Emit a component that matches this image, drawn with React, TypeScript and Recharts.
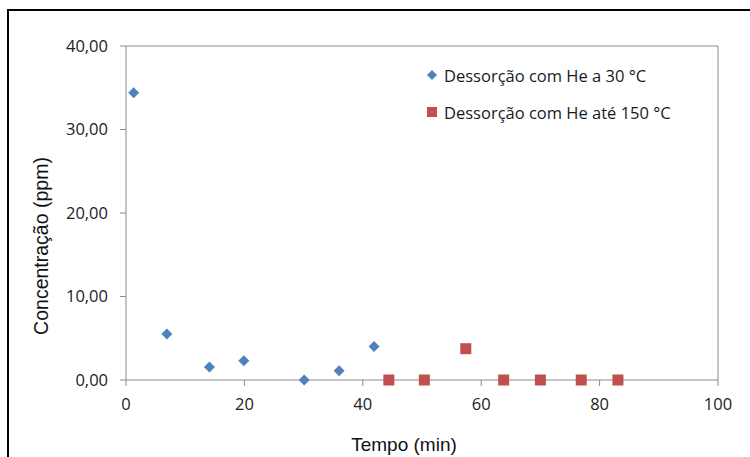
import React from 'react';
import {
  ScatterChart,
  Scatter,
  XAxis,
  YAxis,
  ReferenceLine,
  Legend,
} from 'recharts';

// Desorption at 30 °C (blue diamonds)
const tempo30: number[] = [1.3, 6.9, 14.1, 19.9, 30.1, 36.0, 41.9];
const conc30: number[] = [34.4, 5.5, 1.55, 2.3, 0.0, 1.1, 4.0];

// Desorption up to 150 °C (red squares)
const tempo150: number[] = [44.4, 50.4, 57.4, 63.8, 70.0, 76.9, 83.1];
const conc150: number[] = [0.0, 0.0, 3.75, 0.0, 0.0, 0.0, 0.0];

const xTicks: number[] = [0, 20, 40, 60, 80, 100];
const yTicks: number[] = [0, 10, 20, 30, 40];

const seriesNames: string[] = ['Dessorção com He a 30 °C', 'Dessorção com He até 150 °C'];

const BLUE = '#4F81BD';
const RED = '#C0504D';
const AXIS = '#8c8c8c';
const FONT = '"Open Sans", "Noto Sans", sans-serif';
const TITLE_FONT = '"Liberation Sans", Arial, sans-serif';

const data30 = tempo30.map((t, i) => ({ t, c: conc30[i] }));
const data150 = tempo150.map((t, i) => ({ t, c: conc150[i] }));

const Diamond = (props: any) => {
  const { cx, cy } = props;
  const r = 5.5;
  return (
    <polygon
      points={`${cx},${cy - r} ${cx + r},${cy} ${cx},${cy + r} ${cx - r},${cy}`}
      fill={BLUE}
    />
  );
};

const Square = (props: any) => {
  const { cx, cy } = props;
  const s = 11;
  return <rect x={cx - s / 2} y={cy - s / 2} width={s} height={s} fill={RED} />;
};

// Legend drawn like the Excel one: marker + label, stacked
const LegendContent = () => (
  <div style={{ fontFamily: FONT, fontSize: 16.5, color: '#1a1a1a' }}>
    <div style={{ display: 'flex', alignItems: 'center', height: 26 }}>
      <svg width={14} height={14} style={{ marginRight: 5 }}>
        <polygon points="7,2 12,7 7,12 2,7" fill={BLUE} />
      </svg>
      {seriesNames[0]}
    </div>
    <div style={{ display: 'flex', alignItems: 'center', height: 26, marginTop: 11 }}>
      <svg width={14} height={14} style={{ marginRight: 5 }}>
        <rect x={2} y={2} width={10} height={10} fill={RED} />
      </svg>
      {seriesNames[1]}
    </div>
  </div>
);

const App: React.FC = () => {
  return (
    <div
      style={{
        position: 'absolute',
        left: 0,
        top: 0,
        width: 750,
        height: 457,
        overflow: 'hidden',
        background: '#fff',
      }}
    >
      {/* outer frame (left + top edges visible) */}
      <div
        style={{
          position: 'absolute',
          left: 7,
          top: 9,
          width: 800,
          height: 500,
          borderLeft: '2px solid #000',
          borderTop: '2px solid #000',
        }}
      />
      <div style={{ position: 'absolute', left: 0, top: 0 }}>
        <ScatterChart
          width={750}
          height={457}
          margin={{ top: 46, right: 32, bottom: 17, left: 66 }}
        >
          <XAxis
            type="number"
            dataKey="t"
            domain={[0, 100]}
            ticks={xTicks}
            height={60}
            stroke={AXIS}
            tickSize={6}
            tickMargin={12}
            tick={{ fill: '#222', fontSize: 16.5, fontFamily: FONT }}
            label={() => (
              <text
                x={404}
                y={451}
                textAnchor="middle"
                fill="#111"
                fontSize={19}
                fontFamily={TITLE_FONT}
              >
                Tempo (min)
              </text>
            )}
          />
          <YAxis
            type="number"
            dataKey="c"
            domain={[0, 40]}
            ticks={yTicks}
            width={60}
            stroke={AXIS}
            tickSize={6}
            tickMargin={12}
            tickFormatter={(v: number) => v.toFixed(2).replace('.', ',')}
            tick={{ fill: '#222', fontSize: 16.5, fontFamily: FONT }}
            label={() => (
              <text
                x={48}
                y={246}
                transform="rotate(-90 48 246)"
                textAnchor="middle"
                fill="#111"
                fontSize={19.5}
                fontFamily={TITLE_FONT}
              >
                Concentração (ppm)
              </text>
            )}
          />
          {/* plot area frame: top and right edges */}
          <ReferenceLine y={40} stroke={AXIS} strokeWidth={1} />
          <ReferenceLine x={100} stroke={AXIS} strokeWidth={1} />
          <Legend
            content={<LegendContent />}
            layout="vertical"
            verticalAlign="middle"
            align="center"
            wrapperStyle={{ left: 425, top: 62, width: 320 }}
          />
          <Scatter
            name={seriesNames[0]}
            data={data30}
            fill={BLUE}
            shape={<Diamond />}
            isAnimationActive={false}
          />
          <Scatter
            name={seriesNames[1]}
            data={data150}
            fill={RED}
            shape={<Square />}
            isAnimationActive={false}
          />
        </ScatterChart>
      </div>
    </div>
  );
};

export default App;
